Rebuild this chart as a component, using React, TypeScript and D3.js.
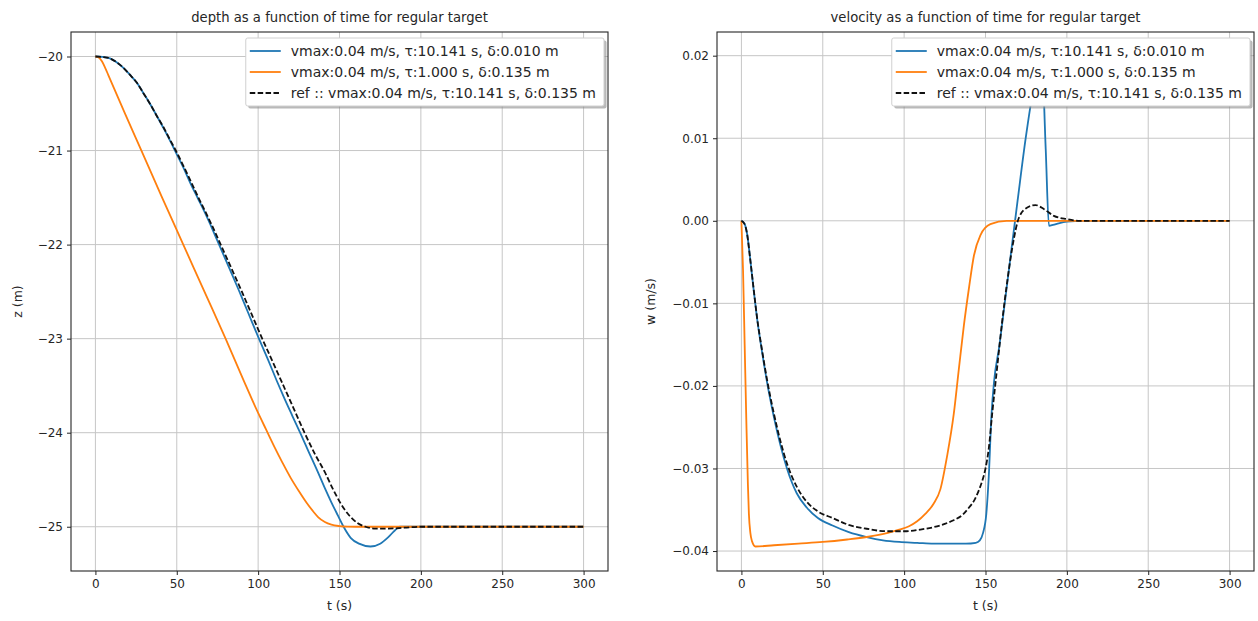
import React, { useEffect, useRef } from 'react';
import * as d3 from 'd3';

const W = 1258;
const H = 621;

// ---------- ticks & labels ----------
const xTicks = [0, 50, 100, 150, 200, 250, 300];
const depthTicks = [-25, -24, -23, -22, -21, -20];
const velTicks = [-0.04, -0.03, -0.02, -0.01, 0, 0.01, 0.02];
const legendLabels = [
  'vmax:0.04 m/s, τ:10.141 s, δ:0.010 m',
  'vmax:0.04 m/s, τ:1.000 s, δ:0.135 m',
  'ref :: vmax:0.04 m/s, τ:10.141 s, δ:0.135 m',
];
const titles = [
  'depth as a function of time for regular target',
  'velocity as a function of time for regular target',
];

// ---------- depth (z) ----------
const depthBlueT = [0, 4.5, 8.9, 13, 17.2, 21, 25.5, 29.5, 33.8, 38, 42.1, 46, 50, 54, 58.7, 63, 67, 72, 76, 82, 88, 94, 100.5, 106, 111.5, 116, 121, 125.8, 131, 137, 141, 145, 149, 152.5, 157, 162, 169, 175, 180, 184, 187, 190, 200, 250, 300];
const depthBlueZ = [-20, -20.005, -20.02, -20.06, -20.12, -20.19, -20.28, -20.39, -20.51, -20.64, -20.77, -20.9, -21.04, -21.18, -21.36, -21.51, -21.65, -21.84, -22.0, -22.24, -22.48, -22.73, -23.0, -23.22, -23.45, -23.63, -23.82, -24.0, -24.2, -24.43, -24.59, -24.74, -24.88, -25.0, -25.12, -25.18, -25.21, -25.18, -25.11, -25.04, -25.0, -25.0, -25.0, -25.0, -25.0];

const depthOrangeT = [0, 2, 4, 6, 8, 18, 28, 41, 54, 67, 80, 91, 100, 105, 110, 115, 120, 125, 130, 134, 137, 141, 145, 150, 155, 160, 200, 300];
const depthOrangeZ = [-20, -20.01, -20.05, -20.12, -20.2, -20.6, -20.99, -21.5, -22.0, -22.5, -23.0, -23.44, -23.79, -23.97, -24.15, -24.32, -24.48, -24.62, -24.75, -24.84, -24.9, -24.95, -24.978, -24.993, -24.999, -25.0, -25.0, -25.0];

const depthRefT = [0, 4.5, 8.9, 13, 17.2, 21, 25.5, 29.5, 33.8, 38, 42.1, 46, 50, 54, 58.7, 63, 67, 72, 77, 83, 90, 96, 102.5, 108, 114.5, 121, 128.5, 135, 141, 146, 151, 156, 161, 166, 172, 180, 190, 200, 250, 300];
const depthRefZ = [-20, -20.005, -20.02, -20.06, -20.12, -20.19, -20.28, -20.39, -20.51, -20.64, -20.76, -20.89, -21.02, -21.16, -21.33, -21.49, -21.63, -21.81, -22.0, -22.23, -22.5, -22.74, -23.0, -23.21, -23.46, -23.71, -24.0, -24.23, -24.42, -24.6, -24.76, -24.88, -24.96, -25.0, -25.02, -25.02, -25.01, -25.0, -25.0, -25.0];

// ---------- velocity (w) ----------
const velBlueT = [0, 2, 3.5, 5.5, 7.6, 9.6, 12.7, 15.8, 19.9, 24, 28, 34, 40, 47, 56, 66, 77, 87, 97, 108, 118, 130, 138, 144, 146.5, 148.5, 150.5, 152, 153.7, 155.3, 158.4, 161.5, 165.6, 169.7, 174.7, 179, 182, 184.5, 187, 189, 191.5, 195, 200, 210, 300];
const velBlueW = [0, -0.0004, -0.0016, -0.0048, -0.0085, -0.0118, -0.0159, -0.0196, -0.0237, -0.0272, -0.03, -0.033, -0.0347, -0.036, -0.0369, -0.0377, -0.0383, -0.0387, -0.0389, -0.039, -0.0391, -0.0391, -0.0391, -0.039, -0.0387, -0.0378, -0.0355, -0.031, -0.0234, -0.0194, -0.0153, -0.0105, -0.004, 0.0024, 0.01, 0.0155, 0.0183, 0.0199, 0.0087, -0.0006, -0.0005, -0.0003, -0.0001, 0, 0];

const velOrangeT = [0, 1, 2, 3, 4, 4.6, 5.5, 6.5, 8.6, 20, 35, 50, 65, 77, 90, 97, 103, 108, 113, 118, 122.3, 126.4, 130.5, 133.6, 136.7, 139.8, 142.9, 147, 153, 163, 300];
const velOrangeW = [0, -0.006, -0.015, -0.024, -0.032, -0.0355, -0.0378, -0.0388, -0.03945, -0.0393, -0.0391, -0.0389, -0.0386, -0.0383, -0.0378, -0.0374, -0.037, -0.0364, -0.0355, -0.0343, -0.0325, -0.0285, -0.0234, -0.018, -0.0127, -0.0082, -0.0042, -0.0017, -0.0004, 0, 0];

const velRefT = [0, 2, 3.5, 5.5, 7.6, 9.6, 12.7, 15.8, 19.9, 24, 28, 34, 40, 47, 56, 67, 77, 89, 100, 110, 122, 130, 136, 140, 143, 146, 148, 150, 152, 154.1, 157.2, 160.3, 163.4, 166.5, 170.6, 175.7, 180.8, 186, 192, 200, 208, 300];
const velRefW = [0, -0.0004, -0.0016, -0.0048, -0.0084, -0.0117, -0.0157, -0.0193, -0.0233, -0.0267, -0.0294, -0.0322, -0.034, -0.0352, -0.036, -0.0369, -0.0373, -0.0376, -0.0376, -0.0374, -0.0369, -0.0363, -0.0356, -0.0347, -0.0339, -0.0326, -0.0315, -0.03, -0.0276, -0.0234, -0.0177, -0.0121, -0.0073, -0.0032, 0.0004, 0.0016, 0.0019, 0.0014, 0.0006, 0.0002, 0, 0];

const BLUE = '#1f77b4';
const ORANGE = '#ff7f0e';
const FONT = '"DejaVu Sans", Verdana, sans-serif';

type Series = { t: number[]; v: number[]; color: string; dash?: string };

function drawPanel(
  svg: d3.Selection<SVGSVGElement, unknown, null, undefined>,
  cfg: {
    id: string;
    left: number;
    right: number;
    top: number;
    bottom: number;
    series: Series[];
    yTicks: number[];
    yFmt: (n: number) => string;
    title: string;
    ylabel: string;
    ylabelX: number;
  }
) {
  const { id, left, right, top, bottom, series, yTicks, yFmt, title, ylabel, ylabelX } = cfg;
  const allT = series.flatMap((s) => s.t);
  const allV = series.flatMap((s) => s.v);
  const [t0, t1] = d3.extent(allT) as [number, number];
  const [v0, v1] = d3.extent(allV) as [number, number];
  const tp = (t1 - t0) * 0.05;
  const vp = (v1 - v0) * 0.05;
  const x = d3.scaleLinear().domain([t0 - tp, t1 + tp]).range([left, right]);
  const y = d3.scaleLinear().domain([v0 - vp, v1 + vp]).range([bottom, top]);

  const g = svg.append('g');

  // grid
  g.append('g')
    .selectAll('line')
    .data(xTicks)
    .join('line')
    .attr('x1', (d) => x(d))
    .attr('x2', (d) => x(d))
    .attr('y1', top)
    .attr('y2', bottom)
    .attr('stroke', '#c6c6c6')
    .attr('stroke-width', 1);
  g.append('g')
    .selectAll('line')
    .data(yTicks)
    .join('line')
    .attr('y1', (d) => y(d))
    .attr('y2', (d) => y(d))
    .attr('x1', left)
    .attr('x2', right)
    .attr('stroke', '#c6c6c6')
    .attr('stroke-width', 1);

  // clip
  svg
    .append('defs')
    .append('clipPath')
    .attr('id', id)
    .append('rect')
    .attr('x', left)
    .attr('y', top)
    .attr('width', right - left)
    .attr('height', bottom - top);

  // lines
  series.forEach((s) => {
    const line = d3
      .line<number>()
      .x((_, i) => x(s.t[i]))
      .y((d) => y(d))
      .curve(d3.curveMonotoneX);
    g.append('path')
      .attr('d', line(s.v) as string)
      .attr('fill', 'none')
      .attr('stroke', s.color)
      .attr('stroke-width', 1.8)
      .attr('stroke-dasharray', s.dash ?? null)
      .attr('clip-path', `url(#${id})`);
  });

  // axes
  const xa = g
    .append('g')
    .attr('transform', `translate(0,${bottom})`)
    .call(d3.axisBottom(x).tickValues(xTicks).tickSize(4).tickPadding(4).tickFormat(d3.format('d') as any));
  const ya = g
    .append('g')
    .attr('transform', `translate(${left},0)`)
    .call(d3.axisLeft(y).tickValues(yTicks).tickSize(4).tickPadding(4).tickFormat(yFmt as any));
  [xa, ya].forEach((a) => {
    a.select('.domain').remove();
    a.selectAll('line').attr('stroke', '#222').attr('stroke-width', 1);
    a.selectAll('text').attr('font-family', FONT).attr('font-size', 12).attr('fill', '#262626');
  });

  // frame
  g.append('rect')
    .attr('x', left)
    .attr('y', top)
    .attr('width', right - left)
    .attr('height', bottom - top)
    .attr('fill', 'none')
    .attr('stroke', '#262626')
    .attr('stroke-width', 1.1);

  // title
  g.append('text')
    .attr('x', (left + right) / 2)
    .attr('y', top - 10)
    .attr('text-anchor', 'middle')
    .attr('font-family', FONT)
    .attr('font-size', 13.2)
    .attr('fill', '#262626')
    .text(title);

  // x label
  g.append('text')
    .attr('x', (left + right) / 2)
    .attr('y', bottom + 39)
    .attr('text-anchor', 'middle')
    .attr('font-family', FONT)
    .attr('font-size', 12.5)
    .attr('fill', '#262626')
    .text('t (s)');

  // y label
  g.append('text')
    .attr('transform', `translate(${ylabelX},${(top + bottom) / 2}) rotate(-90)`)
    .attr('text-anchor', 'middle')
    .attr('dy', '0.35em')
    .attr('font-family', FONT)
    .attr('font-size', 12.5)
    .attr('fill', '#262626')
    .text(ylabel);

  // legend
  const lg = g.append('g');
  const boxTop = top + 6;
  const rowH = 21;
  const handleL = 31;
  const padL = 4;
  const gap = 10;
  const tmp = lg
    .selectAll('text.lbl')
    .data(legendLabels)
    .join('text')
    .attr('class', 'lbl')
    .attr('font-family', FONT)
    .attr('font-size', 14)
    .attr('fill', '#262626')
    .text((d) => d);
  let maxW = 0;
  tmp.each(function () {
    maxW = Math.max(maxW, (this as SVGTextElement).getComputedTextLength());
  });
  const boxW = padL + handleL + gap + maxW + 8;
  const boxH = rowH * 3 + 5;
  const boxRight = right - 4;
  const boxLeft = boxRight - boxW;
  lg.insert('rect', 'text')
    .attr('x', boxLeft + 2.5)
    .attr('y', boxTop + 2.5)
    .attr('width', boxW)
    .attr('height', boxH)
    .attr('rx', 2)
    .attr('fill', '#8a8a8a')
    .attr('opacity', 0.6);
  lg.insert('rect', 'text')
    .attr('x', boxLeft)
    .attr('y', boxTop)
    .attr('width', boxW)
    .attr('height', boxH)
    .attr('rx', 2)
    .attr('fill', '#fff')
    .attr('stroke', '#d0d0d0')
    .attr('stroke-width', 1);
  const colors = series.map((s) => s.color);
  const dashes = series.map((s) => s.dash ?? null);
  legendLabels.forEach((_, i) => {
    const cy = boxTop + 13 + i * rowH;
    lg.append('line')
      .attr('x1', boxLeft + padL)
      .attr('x2', boxLeft + padL + handleL)
      .attr('y1', cy)
      .attr('y2', cy)
      .attr('stroke', colors[i])
      .attr('stroke-width', 1.8)
      .attr('stroke-dasharray', dashes[i]);
  });
  tmp
    .attr('x', boxLeft + padL + handleL + gap)
    .attr('y', (_, i) => boxTop + 13 + i * rowH)
    .attr('dy', '0.35em');
  lg.selectAll('text').raise();
}

export default function App() {
  const ref = useRef<SVGSVGElement>(null);
  useEffect(() => {
    if (!ref.current) return;
    const svg = d3.select(ref.current);
    svg.selectAll('*').remove();
    svg.append('rect').attr('width', W).attr('height', H).attr('fill', '#fff');
    const dash = '5.5,2.4';
    drawPanel(svg, {
      id: 'clipL',
      left: 71,
      right: 608,
      top: 32,
      bottom: 571,
      series: [
        { t: depthBlueT, v: depthBlueZ, color: BLUE },
        { t: depthOrangeT, v: depthOrangeZ, color: ORANGE },
        { t: depthRefT, v: depthRefZ, color: '#111', dash },
      ],
      yTicks: depthTicks,
      yFmt: d3.format('d'),
      title: titles[0],
      ylabel: 'z (m)',
      ylabelX: 18,
    });
    drawPanel(svg, {
      id: 'clipR',
      left: 717,
      right: 1254,
      top: 32,
      bottom: 571,
      series: [
        { t: velBlueT, v: velBlueW, color: BLUE },
        { t: velOrangeT, v: velOrangeW, color: ORANGE },
        { t: velRefT, v: velRefW, color: '#111', dash },
      ],
      yTicks: velTicks,
      yFmt: d3.format('.2f'),
      title: titles[1],
      ylabel: 'w (m/s)',
      ylabelX: 651,
    });
  }, []);
  return (
    <svg
      ref={ref}
      width={W}
      height={H}
      style={{ position: 'absolute', left: 0, top: 0, display: 'block' }}
    />
  );
}
